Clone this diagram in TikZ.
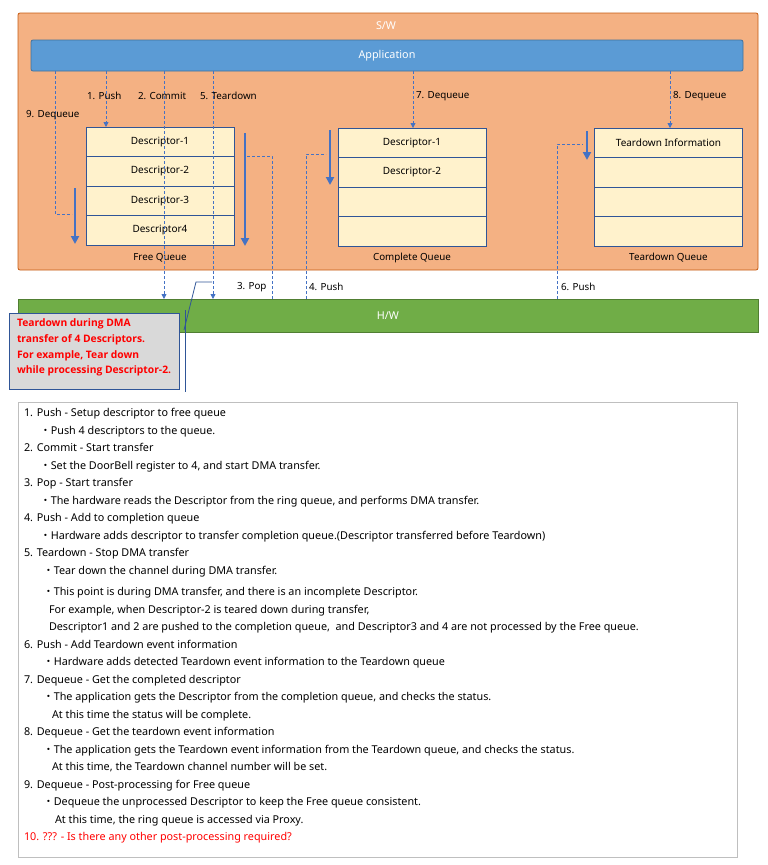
\documentclass[tikz,border=0pt]{standalone}
\usepackage{fontspec}
\setmainfont{Noto Sans}
\newfontfamily\cjk{Noto Sans CJK JP}
\newfontfamily\calloutfont{Open Sans}
\usetikzlibrary{arrows.meta,positioning}

\definecolor{swfill}{HTML}{F4B183}
\definecolor{swdraw}{HTML}{C55A11}
\definecolor{appfill}{HTML}{5B9BD5}
\definecolor{appdraw}{HTML}{41719C}
\definecolor{cellfill}{HTML}{FFF2CC}
\definecolor{celldraw}{HTML}{2F5597}
\definecolor{hwfill}{HTML}{70AD47}
\definecolor{hwdraw}{HTML}{507E32}
\definecolor{flow}{HTML}{4472C4}
\definecolor{notefill}{HTML}{D9D9D9}
\definecolor{framedraw}{HTML}{BFBFBF}
\definecolor{alert}{HTML}{FF0000}

\newcommand\dotmark{{\cjk ・}}

\begin{document}
\begin{tikzpicture}[x=1pt, y=-1pt,
    every node/.style={inner sep=0pt, outer sep=0pt},
    layer/.style={rounded corners=2pt, line width=0.8pt},
    cell/.style={draw=celldraw, fill=cellfill, line width=0.8pt, minimum width=148pt, minimum height=29.5pt, font=\fontsize{10}{11}\selectfont},
    title/.style={text=white, font=\fontsize{10.8}{12}\selectfont},
    flowlbl/.style={anchor=west, font=\fontsize{9.8}{11}\selectfont},
    dflow/.style={draw=flow, line width=0.8pt, dash pattern=on 3pt off 2pt},
    dtip/.style={dflow, -{Triangle[length=5pt,width=5pt]}},
    bigflow/.style={draw=flow, line width=2.6pt, -{Triangle[length=8pt,width=8pt]}},
    callout/.style={draw=celldraw, fill=notefill, line width=0.8pt, minimum width=170pt, minimum height=76pt},
    notebox/.style={draw=framedraw, line width=0.8pt, minimum width=719pt, minimum height=455pt}]
    \useasboundingbox (0,0) rectangle (768,865);

    \fill[swfill, draw=swdraw, layer] (18,13) rectangle (758,270);
    \node[title] (sw) at (386,26) {S/W};
    \node[layer, fill=appfill, draw=appdraw, minimum width=712pt, minimum height=31pt, title] (app) at (387,55.5) {Application};
    \node[fill=hwfill, draw=hwdraw, line width=0.8pt, minimum width=740pt, minimum height=33pt, title] (hw) at (388,315.5) {H/W};

    \node[cell] (f1) at (160,141.75) {Descriptor-1};
    \node[cell, below=0pt of f1] (f2) {Descriptor-2};
    \node[cell, below=0pt of f2] (f3) {Descriptor-3};
    \node[cell, below=0pt of f3] (f4) {Descriptor4};
    \node[flowlbl, anchor=north, below=8pt of f4] (freeq) {Free Queue};

    \node[cell] (c1) at (412,142.75) {Descriptor-1};
    \node[cell, below=0pt of c1] (c2) {Descriptor-2};
    \node[cell, below=0pt of c2] (c3) {};
    \node[cell, below=0pt of c3] (c4) {};
    \node[flowlbl, anchor=north, below=7pt of c4] (compq) {Complete Queue};

    \node[cell] (t1) at (668.5,142.75) {Teardown Information};
    \node[cell, below=0pt of t1] (t2) {};
    \node[cell, below=0pt of t2] (t3) {};
    \node[cell, below=0pt of t3] (t4) {};
    \node[flowlbl, anchor=north, below=7pt of t4] (tdq) {Teardown Queue};

    \coordinate (x1) at (106,0);
    \coordinate (x2) at (164,0);
    \coordinate (x5) at (213,0);
    \coordinate (x9) at (55,0);
    \coordinate (x3) at (272,0);
    \coordinate (x4) at (306,0);
    \coordinate (x6) at (557,0);
    \coordinate (x7) at (413,0);
    \coordinate (x8) at (670,0);

    \draw[dtip] (app.south -| x1) -- (f1.north -| x1);
    \draw[dtip] (app.south -| x2) -- (hw.north -| x2);
    \draw[dtip] (app.south -| x5) -- (hw.north -| x5);
    \draw[dtip] (app.south -| x7) -- (c1.north -| x7);
    \draw[dtip] (app.south -| x8) -- (t1.north -| x8);

    \coordinate (d9) at (72,214);
    \draw[dflow] (app.south -| x9) |- (d9);
    \coordinate (d3) at (247,156);
    \draw[dflow] (d3) -| (hw.north -| x3);
    \coordinate (d4) at (326,154);
    \draw[dflow] (hw.north -| x4) |- (d4);
    \coordinate (d6) at (583,144);
    \draw[dflow] (hw.north -| x6) |- (d6);

    \coordinate (s9) at (75,188);
    \coordinate (e9) at (75,244);
    \draw[bigflow] (s9) -- (e9);
    \coordinate (s3) at (245,133);
    \coordinate (e3) at (245,246);
    \draw[bigflow] (s3) -- (e3);
    \coordinate (s4) at (330,130);
    \coordinate (e4) at (330,185);
    \draw[bigflow] (s4) -- (e4);
    \coordinate (s6) at (587,131);
    \coordinate (e6) at (587,160);
    \draw[bigflow] (s6) -- (e6);

    \node[flowlbl] (l1) at (87,96) {1. Push};
    \node[flowlbl] (l2) at (138,96) {2. Commit};
    \node[flowlbl] (l5) at (200,96) {5. Teardown};
    \node[flowlbl] (l9) at (26,115) {9. Dequeue};
    \node[flowlbl] (l7) at (416,96) {7. Dequeue};
    \node[flowlbl] (l8) at (673,96) {8. Dequeue};
    \node[flowlbl] (l3) at (237,287) {3. Pop};
    \node[flowlbl] (l4) at (309,287) {4. Push};
    \node[flowlbl] (l6) at (561,287) {6. Push};

    \node[callout] (note) at (94,351) {};
    \node[anchor=north west, align=left, text=alert, font=\calloutfont\bfseries\fontsize{10.3}{15.6}\selectfont] (notetext) at (17,319) {Teardown during DMA\\transfer of 4 Descriptors.\\For example, Tear down\\while processing Descriptor-2.};
    \coordinate (bar1) at (185,310);
    \coordinate (bar2) at (185,392);
    \draw[celldraw, line width=0.8pt] (bar1) -- (bar2);
    \coordinate (lead1) at (184,330);
    \coordinate (lead2) at (196,282);
    \coordinate (lead3) at (212,282);
    \draw[celldraw, line width=0.8pt] (lead1) -- (lead2) -- (lead3);

    \node[notebox] (frame) at (377.5,629.5) {};
    \node[anchor=north west, align=left, font=\fontsize{10.8}{17.5}\selectfont] (notes) at ([xshift=6pt, yshift=-6.5pt]frame.north west) {1. Push - Setup descriptor to free queue\\
\hspace*{16pt}\dotmark Push 4 descriptors to the queue.\\
2. Commit - Start transfer\\
\hspace*{16pt}\dotmark Set the DoorBell register to 4, and start DMA transfer.\\
3. Pop - Start transfer\\
\hspace*{16pt}\dotmark The hardware reads the Descriptor from the ring queue, and performs DMA transfer.\\
4. Push - Add to completion queue\\
\hspace*{16pt}\dotmark Hardware adds descriptor to transfer completion queue.(Descriptor transferred before Teardown)\\
5. Teardown - Stop DMA transfer\\
\hspace*{19pt}\dotmark Tear down the channel during DMA transfer.\\[4pt]
\hspace*{19pt}\dotmark This point is during DMA transfer, and there is an incomplete Descriptor.\\
\hspace*{25pt}For example, when Descriptor-2 is teared down during transfer,\\
\hspace*{25pt}Descriptor1 and 2 are pushed to the completion queue,\ \ and Descriptor3 and 4 are not processed by the Free queue.\\
6. Push - Add Teardown event information\\
\hspace*{19pt}\dotmark Hardware adds detected Teardown event information to the Teardown queue\\
7. Dequeue - Get the completed descriptor\\
\hspace*{19pt}\dotmark The application gets the Descriptor from the completion queue, and checks the status.\\
\hspace*{28pt}At this time the status will be complete.\\
8. Dequeue - Get the teardown event information\\
\hspace*{19pt}\dotmark The application gets the Teardown event information from the Teardown queue, and checks the status.\\
\hspace*{28pt}At this time, the Teardown channel number will be set.\\
9. Dequeue - Post-processing for Free queue\\
\hspace*{19pt}\dotmark Dequeue the unprocessed Descriptor to keep the Free queue consistent.\\
\hspace*{31pt}At this time, the ring queue is accessed via Proxy.\\
\textcolor{alert}{10. ??? - Is there any other post-processing required?}};
\end{tikzpicture}
\end{document}
